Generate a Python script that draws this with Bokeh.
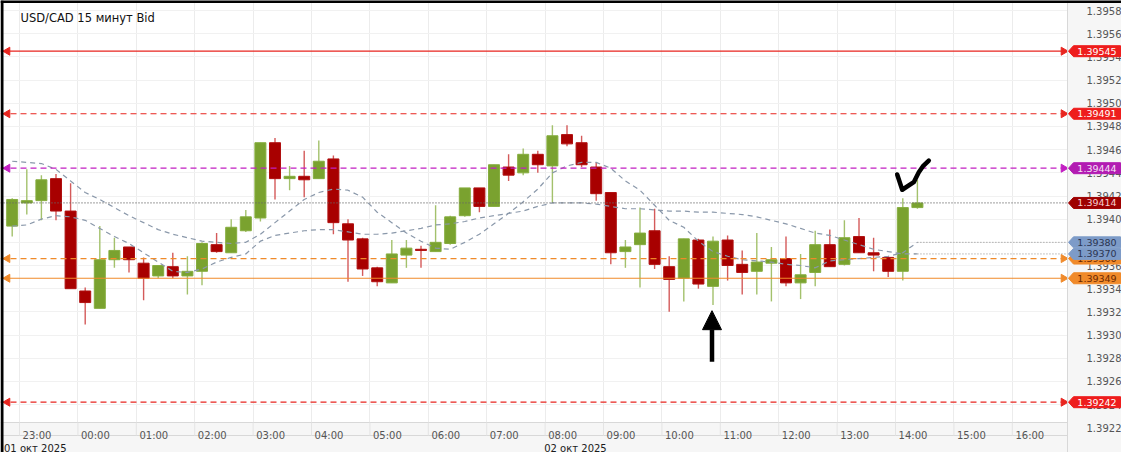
import numpy as np
from bokeh.plotting import figure
from bokeh.models import (Label, PolyAnnotation, FixedTicker, Range1d, Arrow, LinearAxis,
                          NormalHead, PrintfTickFormatter)
from bokeh.embed import file_html
from bokeh.resources import INLINE

# ---------------- data ----------------
title_text = "USD/CAD  15 минут Bid"
# 15-minute candles, first one starts 01.10.2025 22:45 (x axis = hours after 01.10 23:00)
opens = [1.39394, 1.39414, 1.39416, 1.39435, 1.39407, 1.39338, 1.39323, 1.39365, 1.39376, 1.39362,
         1.39351, 1.39359, 1.39351, 1.39355, 1.39378, 1.39371, 1.39390, 1.39401, 1.39466, 1.39435,
         1.39437, 1.39435, 1.39452, 1.39396, 1.39383, 1.39358, 1.39345, 1.39369, 1.39374, 1.39372,
         1.39379, 1.39403, 1.39427, 1.39411, 1.39445, 1.39440, 1.39456, 1.39446, 1.39473, 1.39466,
         1.39445, 1.39423, 1.39372, 1.39378, 1.39390, 1.39359, 1.39349, 1.39382, 1.39342, 1.39382,
         1.39361, 1.39355, 1.39362, 1.39366, 1.39345, 1.39354, 1.39378, 1.39361, 1.39385, 1.39371,
         1.39367, 1.39355, 1.39410]
highs = [1.39418, 1.39443, 1.39438, 1.39439, 1.39431, 1.39341, 1.39394, 1.39384, 1.39376, 1.39367,
         1.39360, 1.39371, 1.39368, 1.39380, 1.39388, 1.39400, 1.39408, 1.39466, 1.39470, 1.39446,
         1.39459, 1.39468, 1.39455, 1.39400, 1.39384, 1.39359, 1.39382, 1.39382, 1.39377, 1.39412,
         1.39403, 1.39427, 1.39427, 1.39447, 1.39456, 1.39461, 1.39459, 1.39481, 1.39481, 1.39472,
         1.39449, 1.39423, 1.39382, 1.39410, 1.39409, 1.39368, 1.39383, 1.39383, 1.39385, 1.39386,
         1.39373, 1.39388, 1.39376, 1.39385, 1.39370, 1.39390, 1.39391, 1.39399, 1.39401, 1.39384,
         1.39368, 1.39418, 1.39434]
lows = [1.39385, 1.39404, 1.39399, 1.39399, 1.39340, 1.39309, 1.39323, 1.39358, 1.39354, 1.39330,
        1.39349, 1.39349, 1.39335, 1.39343, 1.39371, 1.39371, 1.39389, 1.39398, 1.39417, 1.39425,
        1.39419, 1.39435, 1.39387, 1.39346, 1.39351, 1.39342, 1.39345, 1.39358, 1.39358, 1.39372,
        1.39378, 1.39402, 1.39406, 1.39411, 1.39433, 1.39438, 1.39440, 1.39414, 1.39463, 1.39445,
        1.39416, 1.39361, 1.39358, 1.39341, 1.39357, 1.39320, 1.39329, 1.39340, 1.39326, 1.39347,
        1.39335, 1.39335, 1.39329, 1.39342, 1.39331, 1.39342, 1.39359, 1.39360, 1.39371, 1.39355,
        1.39350, 1.39347, 1.39409]
closes = [1.39417, 1.39416, 1.39434, 1.39407, 1.39340, 1.39328, 1.39365, 1.39373, 1.39365, 1.39349,
          1.39360, 1.39351, 1.39355, 1.39379, 1.39372, 1.39393, 1.39402, 1.39466, 1.39435, 1.39437,
          1.39434, 1.39450, 1.39397, 1.39382, 1.39357, 1.39346, 1.39370, 1.39375, 1.39373, 1.39380,
          1.39402, 1.39427, 1.39411, 1.39447, 1.39438, 1.39456, 1.39447, 1.39472, 1.39465, 1.39447,
          1.39422, 1.39371, 1.39376, 1.39388, 1.39361, 1.39348, 1.39383, 1.39344, 1.39381, 1.39360,
          1.39354, 1.39363, 1.39365, 1.39345, 1.39352, 1.39378, 1.39359, 1.39384, 1.39371, 1.39369,
          1.39355, 1.39410, 1.39414]
ma_fast = [1.39450, 1.39449, 1.39448, 1.39443, 1.39433, 1.39423, 1.39417, 1.39410, 1.39403, 1.39397,
           1.39391, 1.39387, 1.39384, 1.39381, 1.39380, 1.39379, 1.39380, 1.39387, 1.39397, 1.39407,
           1.39417, 1.39423, 1.39426, 1.39425, 1.39419, 1.39406, 1.39397, 1.39388, 1.39381, 1.39375,
           1.39374, 1.39380, 1.39387, 1.39396, 1.39405, 1.39415, 1.39426, 1.39440, 1.39446, 1.39449,
           1.39449, 1.39444, 1.39433, 1.39425, 1.39412, 1.39399, 1.39393, 1.39381, 1.39372, 1.39368,
           1.39365, 1.39364, 1.39363, 1.39361, 1.39360, 1.39358, 1.39364, 1.39365, 1.39366, 1.39367,
           1.39368, 1.39371, 1.39380]
ma_slow = [1.39394, 1.39395, 1.39400, 1.39403, 1.39402, 1.39399, 1.39392, 1.39385, 1.39379, 1.39371,
           1.39363, 1.39355, 1.39354, 1.39357, 1.39363, 1.39367, 1.39370, 1.39381, 1.39386, 1.39388,
           1.39390, 1.39391, 1.39391, 1.39389, 1.39387, 1.39387, 1.39388, 1.39390, 1.39392, 1.39395,
           1.39396, 1.39398, 1.39401, 1.39403, 1.39405, 1.39407, 1.39411, 1.39414, 1.39414, 1.39414,
           1.39413, 1.39411, 1.39409, 1.39409, 1.39408, 1.39407, 1.39407, 1.39406, 1.39406, 1.39405,
           1.39404, 1.39402, 1.39399, 1.39396, 1.39392, 1.39388, 1.39386, 1.39382, 1.39378, 1.39374,
           1.39372, 1.39370, 1.39370]

hour_labels = ["23:00", "00:00", "01:00", "02:00", "03:00", "04:00", "05:00", "06:00", "07:00",
               "08:00", "09:00", "10:00", "11:00", "12:00", "13:00", "14:00", "15:00", "16:00"]
date_labels = ["01 окт 2025", "02 окт 2025"]
date_label_hours = [0.27, 9.52]
y_ticks = [1.3922, 1.3924, 1.3926, 1.3928, 1.3930, 1.3932, 1.3934, 1.3936, 1.3938,
           1.3940, 1.3942, 1.3944, 1.3946, 1.3948, 1.3950, 1.3952, 1.3954, 1.3956, 1.3958]

# horizontal levels: value, line colour, dash, arrows, tag fill, tag text colour
levels = [1.39545, 1.39491, 1.39444, 1.39414, 1.39366, 1.39349, 1.39242]
level_colors = ["#e8251f", "#e8251f", "#c21ec2", "#666666", "#f08a2a", "#f08a2a", "#e8251f"]
level_dash = ["solid", "6 4", "6 4", "1 2", "6 4", "solid", "6 4"]
level_arrow = [True, True, True, False, True, True, True]
tag_fill = ["#ee1d1d", "#ee1d1d", "#b21cb2", "#9e0000", "#f08a2a", "#f08a2a", "#ee1d1d"]
tag_text = ["white", "white", "#f6e0f6", "#f6d0d0", "#6a2800", "#6a2800", "white"]
ma_tag_fill, ma_tag_text = "#7d9bc8", "#2b3550"

# hand-drawn marks (hours after 01.10 23:00, price)
arrow_hour = 11.858
arrow_from, arrow_to = 1.39277, 1.39321
check_hours = [15.029, 15.115, 15.313, 15.399, 15.467, 15.570]
check_prices = [1.394386, 1.394254, 1.394319, 1.394405, 1.394455, 1.394506]

# ---------------- geometry ----------------
PX_PER_H = 58.4            # pixels per hour
PX_PER_PRICE = 115842      # pixels per price unit
W, H = 1121, 452
x_start = -19 / PX_PER_H
x_end = x_start + W / PX_PER_H
x_panel = x_start + 1067 / PX_PER_H        # left edge of the price-scale panel
y_end = 1.39545 + 50.7 / PX_PER_PRICE
y_start = y_end - H / PX_PER_PRICE
def y_at(px):  # price at a given pixel row from the top
    return y_end - px / PX_PER_PRICE
y_band = y_at(422)                          # top of the time-axis band
y_row = y_at(435)                           # line between time row and date row

p = figure(width=W, height=H, output_backend="svg", toolbar_location=None,
           x_range=Range1d(x_start, x_end), y_range=Range1d(y_start, y_end),
           y_axis_location=None, min_border_left=0, min_border_top=0,
           min_border_right=0, min_border_bottom=0)
p.background_fill_color = "white"
p.border_fill_color = "white"
p.outline_line_color = None

FONT = "DejaVu Sans"

def style_axis(ax):
    ax.axis_line_color = None
    ax.major_tick_line_color = None
    ax.minor_tick_line_color = None
    ax.major_label_text_font = FONT
    ax.major_label_text_font_size = "10px"
    ax.major_label_text_color = "#555555"

p.xgrid.ticker = FixedTicker(ticks=list(range(len(hour_labels))))
p.ygrid.ticker = FixedTicker(ticks=y_ticks)
p.xgrid.grid_line_color = "#ececec"
p.ygrid.grid_line_color = "#f1f1f1"

# candles
o = np.array(opens); c = np.array(closes); h = np.array(highs); l = np.array(lows)
centers = np.arange(len(opens)) * 0.25 - 0.25 + 0.125
up = c >= o
dn = ~up
body_w = 11 / PX_PER_H
p.segment(centers[up], l[up], centers[up], h[up], line_color="#a3c16c", line_width=1.4)
p.segment(centers[dn], l[dn], centers[dn], h[dn], line_color="#d45a5a", line_width=1.4)
p.vbar(x=centers[up], width=body_w, top=c[up], bottom=o[up], fill_color="#7aa22f",
       line_color="#86ad3f", line_width=1)
p.vbar(x=centers[dn], width=body_w, top=o[dn], bottom=c[dn], fill_color="#a80000",
       line_color="#b01010", line_width=1)

# moving averages
p.line(centers, ma_fast, line_color="#8a98aa", line_dash="5 4", line_width=1.2)
p.line(centers, ma_slow, line_color="#8a98aa", line_dash="5 4", line_width=1.2)
p.line([centers[-1], x_panel], [ma_fast[-1], ma_fast[-1]], line_color="#8a8a8a", line_dash="1 2", line_width=1)
p.line([centers[-1] - 0.05, x_panel], [ma_slow[-1], ma_slow[-1]], line_color="#8a8a8a", line_dash="1 2", line_width=1)

# level lines and arrows
for lvl, col, dash, arr in zip(levels, level_colors, level_dash, level_arrow):
    p.line([x_start, x_panel], [lvl, lvl], line_color=col, line_dash=dash, line_width=1.2)
    if arr:
        p.scatter([x_start + 7 / PX_PER_H], [lvl], marker="triangle", size=8, angle=np.pi / 2,
                  fill_color=col, line_color=col)
        p.scatter([x_panel - 4 / PX_PER_H], [lvl], marker="triangle", size=8, angle=-np.pi / 2,
                  fill_color=col, line_color=col)

# hand-drawn arrow and check mark
p.add_layout(Arrow(end=NormalHead(size=19, fill_color="black", line_color="black"),
                   x_start=arrow_hour, y_start=arrow_from, x_end=arrow_hour, y_end=arrow_to,
                   line_color="black", line_width=4.5))
p.line(check_hours, check_prices, line_color="black", line_width=4.5, line_cap="round", line_join="round")

# time-axis band and price-scale panel backgrounds
p.quad(left=[x_start], right=[x_end], bottom=[y_start], top=[y_band], fill_color="#f6f6f6",
       line_color=None)
p.quad(left=[x_panel], right=[x_end], bottom=[y_start], top=[y_end], fill_color="#f6f6f6",
       line_color=None)
p.segment([x_start, x_start, x_panel], [y_band, y_row, y_start], [x_panel, x_panel, x_panel],
          [y_band, y_row, y_end], line_color="#d8d8d8", line_width=1)
for hr in range(len(hour_labels)):
    p.segment([hr], [y_row], [hr], [y_band], line_color="#e4e4e4", line_width=1)
# window border seen in the screenshot (left and top edges)
p.segment([x_start + 1.5 / PX_PER_H, x_start], [y_start, y_at(1)], [x_start + 1.5 / PX_PER_H, x_end],
          [y_end, y_at(1)], line_color="black", line_width=3)

# time axis (drawn inside the canvas)
p.xaxis.fixed_location = y_band
p.xaxis.ticker = FixedTicker(ticks=[i + 18 / 60 for i in range(len(hour_labels))])
p.xaxis.major_label_overrides = {i + 18 / 60: lab for i, lab in enumerate(hour_labels)}
style_axis(p.xaxis[0])
p.xaxis.major_label_standoff = 1
# date axis
date_axis = LinearAxis(ticker=FixedTicker(ticks=date_label_hours), fixed_location=y_row,
                       major_label_overrides={hv: t for hv, t in zip(date_label_hours, date_labels)})
style_axis(date_axis)
date_axis.major_label_text_color = "#1a1a1a"
date_axis.major_label_standoff = 1
p.add_layout(date_axis, "below")

# price axis inside the panel
price_axis = LinearAxis(ticker=FixedTicker(ticks=y_ticks), formatter=PrintfTickFormatter(format="%.4f"),
                        fixed_location=x_panel)
style_axis(price_axis)
price_axis.major_label_standoff = 13
p.add_layout(price_axis, "right")

# price tags
HALF = 5.5 / PX_PER_PRICE
def tag(val, fill, txt):
    xl = x_panel + 1 / PX_PER_H
    xp = x_panel + 6 / PX_PER_H
    xr = x_panel + 53 / PX_PER_H
    p.add_layout(PolyAnnotation(xs=[xl, xp, xr, xr, xp],
                                ys=[val, val + HALF, val + HALF, val - HALF, val - HALF],
                                fill_color=fill, fill_alpha=1, line_color=fill, line_alpha=1))
    p.add_layout(Label(x=x_panel + 29.5 / PX_PER_H, y=val, text=f"{val:.5f}", text_align="center",
                       text_baseline="middle", text_font=FONT, text_font_size="9.5px", text_color=txt))

for i in [0, 1, 2, 3, 6, 4]:
    tag(levels[i], tag_fill[i], tag_text[i])
tag(ma_fast[-1], ma_tag_fill, ma_tag_text)
tag(ma_slow[-1], ma_tag_fill, ma_tag_text)
tag(levels[5], tag_fill[5], tag_text[5])

# title
p.add_layout(Label(x=20, y=H - 17, x_units="screen", y_units="screen", text=title_text,
                   text_font=FONT, text_font_size="11.5px", text_color="#111111", text_baseline="middle"))

open("out.html", "w").write(file_html(p, INLINE))
